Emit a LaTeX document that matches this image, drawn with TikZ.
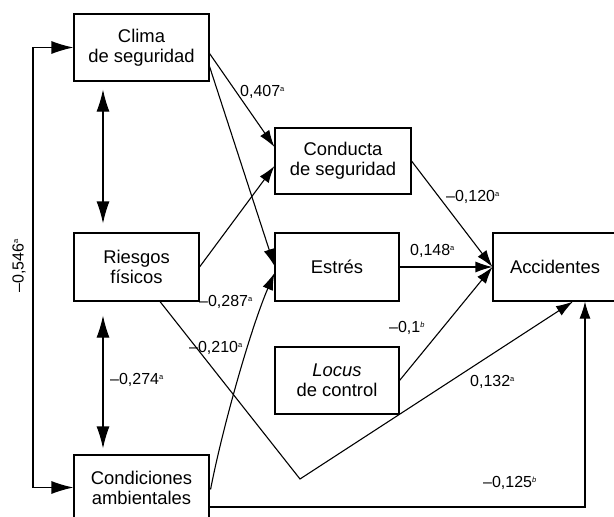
\documentclass[tikz,border=0pt]{standalone}
\usepackage{fontspec}
\setmainfont{Liberation Sans}
\usetikzlibrary{arrows.meta,calc}
\newcommand{\mysupa}{\raisebox{5.5pt}{\fontsize{7.5}{7.5}\selectfont a}}
\newcommand{\mysupb}{\raisebox{5.5pt}{\fontsize{7.5}{7.5}\selectfont\itshape b}}
\tikzset{
 box/.style={draw, line width=1.1pt, align=center, inner sep=0pt, font=\fontsize{18.4}{20}\selectfont},
 conn/.style={line width=1.1pt, -{Latex[length=17pt,width=11pt]}},
 dbl/.style={line width=1.1pt, {Latex[length=22pt,width=13pt]}-{Latex[length=22pt,width=13pt]}},
 lab/.style={font=\fontsize{16}{16}\selectfont, inner sep=0pt, anchor=west},
}
\begin{document}
\begin{tikzpicture}[x=1pt, y=-1pt]
\useasboundingbox (0,0) rectangle (614,517);
% boxes
\node[box, minimum width=135pt, minimum height=67pt] (clima) at (141.5,47.5) {Clima\\de seguridad};
\node[box, minimum width=136pt, minimum height=66pt] (conducta) at (343,161) {Conducta\\de seguridad};
\node[box, minimum width=125pt, minimum height=68pt] (riesgos) at (136.5,267) {Riesgos\\físicos};
\node[box, minimum width=124pt, minimum height=68pt] (estres) at (337,267) {Estrés};
\node[box, minimum width=124pt, minimum height=68pt] (acc) at (555,267) {Accidentes};
\node[box, minimum width=124pt, minimum height=67pt] (locus) at (337,380.5) {\textit{Locus}\\de control};
\node[box, minimum width=135pt, minimum height=65pt] (cond) at (141.5,487.5) {Condiciones\\ambientales};
% helper coordinates
\coordinate (lx) at (33,267);
\coordinate (vx) at (103,0);
\coordinate (kink) at (300,479);
\coordinate (br) at (585,507);
% connectors
\draw[conn] ($(clima.east)+(0,6)$) -- ($(conducta.west)+(0,-14)$);
\draw[conn] ($(clima.east)+(0,19)$) -- ($(estres.west)+(0,-1)$);
\draw[conn] (riesgos.east) -- ($(conducta.west)+(0,5)$);
\draw[conn] ($(cond.east)+(1,2)$) .. controls (222,430) and (250,330) .. ($(estres.west)+(0,6)$);
\draw[conn] ($(riesgos.south)+(23.5,0)$) -- (kink) -- ($(acc.south)+(18,0)$);
\draw[conn] (conducta.east) -- (acc.west);
\draw[conn] (estres.east) -- (acc.west);
\draw[conn] (locus.east) -- (acc.west);
\draw[conn] (cond.east |- br) -- (br) -- (br |- acc.south);
\draw[dbl] (clima.west) -| (lx) |- (cond.west);
\draw[dbl, shorten <=8pt, shorten >=9pt] (clima.south -| vx) -- (riesgos.north -| vx);
\draw[dbl, shorten <=14pt, shorten >=6pt] (riesgos.south -| vx) -- (cond.north -| vx);
% labels
\node[lab] (l407) at (240,92) {0,407\mysupa};
\node[lab] (l120) at (446,197) {--0,120\mysupa};
\node[lab] (l148) at (410,251) {0,148\mysupa};
\node[lab] (l1) at (389,328) {--0,1\mysupb};
\node[lab] (l132) at (470,382) {0,132\mysupa};
\node[lab] (l125) at (483,483) {--0,125\mysupb};
\node[lab] (l287) at (199,302) {--0,287\mysupa};
\node[lab] (l210) at (189,348) {--0,210\mysupa};
\node[lab] (l274) at (110,380) {--0,274\mysupa};
\node[lab, anchor=center, rotate=90] (l546) at (19,266) {--0,546\mysupa};
\end{tikzpicture}
\end{document}
